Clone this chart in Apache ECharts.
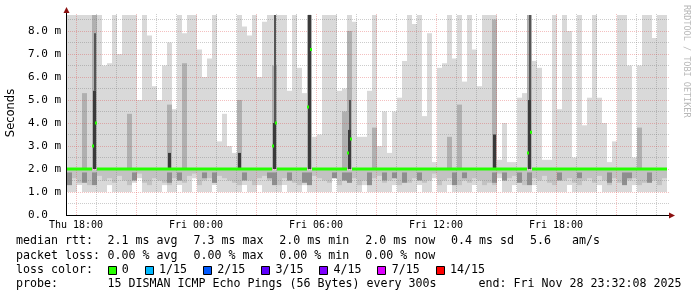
<!DOCTYPE html>
<html><head><meta charset="utf-8">
<script src="https://cdn.jsdelivr.net/npm/echarts@6/dist/echarts.min.js"></script>
<style>html,body{margin:0;padding:0;background:#fff}#c{width:697px;height:297px}</style>
</head><body><div id="c"></div>
<script>
// time of first column (hours since Thu 00:00) and column width in hours
const START_H = 17.55;
const STEP_H = 0.25;

// top of the smoke (max ping) per column, ms
const smokeMax = [
 8.7,8.7,8.7,8.7,8.7,8.7,8.7,6.5,6.6,8.7,
 7.0,8.7,8.7,8.7,5.0,8.7,7.8,5.6,5.0,6.5,
 7.5,4.6,8.7,7.9,8.7,8.7,7.2,6.0,6.8,8.7,
 3.2,4.4,3.0,2.7,8.7,8.2,7.8,8.7,6.0,8.4,
 8.7,8.7,8.7,8.7,5.4,8.7,6.4,5.3,8.7,3.4,
 3.5,8.7,8.7,8.7,5.4,5.5,8.7,8.4,3.4,3.4,
 5.4,8.7,3.0,4.5,2.7,4.5,5.1,6.7,8.7,8.3,
 8.7,4.3,7.9,2.3,6.4,6.6,8.7,6.8,8.7,5.8,
 8.7,7.2,5.6,8.7,8.7,8.7,2.4,4.0,2.3,2.3,
 5.1,5.3,8.7,6.7,6.4,2.4,2.4,8.7,4.6,8.7,
 8.0,2.5,8.7,3.9,5.1,8.7,5.1,4.0,2.3,3.2,
 8.7,8.7,6.5,2.5,6.5,8.7,8.7,7.7,8.7,8.7
];
// bottom of the smoke (min ping) per column, ms
const smokeMin = [
 1.0,1.0,1.3,1.0,1.0,1.0,1.0,1.0,1.3,1.0,
 1.0,1.0,1.0,1.4,1.6,1.0,1.0,1.0,1.0,1.3,
 1.0,1.0,1.3,1.0,1.0,1.6,1.0,1.0,1.0,1.3,
 1.0,1.0,1.0,1.0,1.0,1.3,1.0,1.0,1.3,1.0,
 1.0,1.0,1.0,1.3,1.0,1.0,1.0,1.3,1.0,1.0,
 1.0,1.0,1.0,1.6,1.0,1.0,1.0,1.0,1.0,1.3,
 1.0,1.0,1.0,1.0,1.0,1.3,1.0,1.0,1.0,1.0,
 1.3,1.0,1.0,1.6,1.0,1.0,1.3,1.0,1.0,1.0,
 1.0,1.3,1.0,1.0,1.0,1.0,1.6,1.0,1.0,1.3,
 1.0,1.0,1.0,1.3,1.0,1.0,1.0,1.0,1.0,1.0,
 1.3,1.0,1.0,1.0,1.0,1.0,1.3,1.0,1.0,1.0,
 1.0,1.0,1.0,1.3,1.0,1.0,1.0,1.0,1.0,1.0
];
// bottom of the denser (medium gray) smoke below the median, ms
const coreLow = [
 1.3,1.6,1.4,1.5,1.3,1.4,1.7,1.5,1.6,1.4,
 1.7,1.5,1.3,1.6,1.8,1.4,1.3,1.6,1.5,1.4,
 1.3,1.6,1.5,1.4,1.7,1.8,1.3,1.5,1.6,1.4,
 1.7,1.6,1.5,1.4,1.3,1.6,1.5,1.3,1.6,1.7,
 1.5,1.4,1.3,1.6,1.5,1.4,1.3,1.6,1.5,1.7,
 1.6,1.5,1.4,1.8,1.3,1.5,1.4,1.6,1.3,1.5,
 1.3,1.6,1.7,1.4,1.5,1.6,1.3,1.5,1.4,1.6,
 1.6,1.4,1.5,1.8,1.3,1.5,1.6,1.4,1.3,1.5,
 1.4,1.6,1.5,1.3,1.4,1.3,1.8,1.5,1.6,1.7,
 1.5,1.3,1.4,1.6,1.5,1.7,1.4,1.3,1.6,1.5,
 1.6,1.4,1.3,1.5,1.6,1.4,1.7,1.5,1.3,1.6,
 1.4,1.3,1.5,1.6,1.3,1.4,1.6,1.5,1.3,1.6
];
// top of denser smoke above the median (0 = none), ms
const coreHigh = [
 0,0,0,5.3,0,8.7,0,0,0,0,
 0,0,4.4,0,0,0,0,0,0,0,
 4.8,0,0,6.6,0,0,0,0,0,0,
 0,0,0,0,5.0,0,0,0,0,0,
 0,6.5,0,0,0,0,0,0,8.7,0,
 0,0,0,0,0,4.5,8.0,0,0,0,
 0,3.8,0,0,0,0,0,0,0,0,
 0,0,0,0,0,0,3.4,0,4.8,0,
 0,0,0,0,0,8.5,0,0,0,0,
 0,0,8.7,0,0,0,0,0,0,0,
 0,0,0,0,0,0,0,0,0,0,
 0,0,0,0,3.8,0,0,0,0,0
];
// bottom of dark stripes under the median (0 = none), ms
const lowDark = [
 1.3,0,0,1.4,0,1.3,0,0,0,0,
 0,0,0,1.5,0,0,0,0,0,0,
 1.4,0,1.5,0,0,0,0,1.6,0,1.4,
 0,0,0,0,0,1.5,0,0,0,0,
 1.6,1.3,0,0,1.5,0,0,1.4,1.3,0,
 0,0,0,1.6,0,1.5,1.4,0,0,0,
 1.3,0,0,1.5,0,1.6,0,1.4,0,0,
 1.5,0,0,0,0,0,0,1.3,0,1.6,
 0,0,0,0,0,1.4,0,1.5,0,0,
 1.4,0,1.3,0,0,0,0,0,1.5,0,
 0,0,1.6,0,0,0,0,0,1.4,0,
 0,1.3,1.6,0,0,0,1.4,0,0,0
];
// median rtt per column (null where the column holds a spike)
const median = [
 2.0,2.0,2.0,2.0,2.0,null,2.0,2.0,2.0,2.0,
 2.0,2.0,2.0,2.0,2.0,2.0,2.0,2.0,2.0,2.0,
 2.0,2.0,2.0,2.0,2.0,2.0,2.0,2.0,2.0,2.0,
 2.0,2.0,2.0,2.0,2.0,2.0,2.0,2.0,2.0,2.0,
 2.0,null,2.0,2.0,2.0,2.0,2.0,2.0,null,2.0,
 2.0,2.0,2.0,2.0,2.0,2.0,null,2.0,2.0,2.0,
 2.0,2.0,2.0,2.0,2.0,2.0,2.0,2.0,2.0,2.0,
 2.0,2.0,2.0,2.0,2.0,2.0,2.0,2.0,2.0,2.0,
 2.0,2.0,2.0,2.0,2.0,2.0,2.0,2.0,2.0,2.0,
 2.0,2.0,null,2.0,2.0,2.0,2.0,2.0,2.0,2.0,
 2.0,2.0,2.0,2.0,2.0,2.0,2.0,2.0,2.0,2.0,
 2.0,2.0,2.0,2.0,2.0,2.0,2.0,2.0,2.0,2.0
];
// spike columns: dark core and thin dark line above it
const spikeCols = [5, 20, 34, 41, 48, 56, 85, 92];
const spikeLow  = [2.0, 2.0, 2.0, 2.0, 2.0, 2.0, 2.0, 2.0];
const spikeHigh = [5.4, 2.7, 2.7, 4.0, 8.7, 3.7, 3.5, 5.0];
const spikeTop  = [7.9, 0, 0, 8.7, 8.7, 5.0, 0, 8.7];
// median readings inside spike columns
const dotCols = [5, 5, 41, 41, 48, 48, 56, 56, 92, 92];
const dotVals = [3.0, 4.0, 3.0, 4.0, 4.7, 7.2, 2.7, 3.3, 2.7, 3.6];

const xTickValues = [18, 24, 30, 36, 42];
const xTickLabels = ['Thu 18:00', 'Fri 00:00', 'Fri 06:00', 'Fri 12:00', 'Fri 18:00'];
const yTickValues = [0, 1, 2, 3, 4, 5, 6, 7, 8];
const yTickLabels = ['0.0  ', '1.0 m', '2.0 m', '3.0 m', '4.0 m', '5.0 m', '6.0 m', '7.0 m', '8.0 m'];
const majorHours = [18, 21, 24, 27, 30, 33, 36, 39, 42, 45];
const minorHours = [19, 20, 22, 23, 25, 26, 28, 29, 31, 32, 34, 35, 37, 38, 40, 41, 43, 44, 46, 47];
const majorLevels = [1, 2, 3, 4, 5, 6, 7, 8];
const minorLevels = [0.5, 1.5, 2.5, 3.5, 4.5, 5.5, 6.5, 7.5, 8.5];

// legend rows: label + items
const rttItems = ['2.1 ms avg', '7.3 ms max', '2.0 ms min', '2.0 ms now', '0.4 ms sd', '5.6   am/s'];
const lossItems = ['0.00 % avg', '0.00 % max', '0.00 % min', '0.00 % now'];
const lossLabels = ['0', '1/15', '2/15', '3/15', '4/15', '7/15', '14/15'];
const lossColors = ['#26ff00', '#00b8ff', '#0059ff', '#5e00ff', '#7e00ff', '#dd00ff', '#ff0000'];
const probeText = '15 DISMAN ICMP Echo Pings (56 Bytes) every 300s';
const endText = 'end: Fri Nov 28 23:32:08 2025';

const MONO = '"DejaVu Sans Mono", monospace';
const FONT_LEG = '11.63px ' + MONO;
const CH = 7.0;        // legend character advance, px
const GAP = 15.9;      // gap between legend items, px
const colT = k => START_H + STEP_H * k;

function rowsFrom(lowArr, highArr) {
  const rows = [];
  for (let k = 0; k < highArr.length; k++) {
    const lo = lowArr[k], hi = highArr[k];
    if (hi && lo && hi > lo) rows.push([colT(k), lo, hi]);
  }
  return rows;
}
function layer(rows, color, z, thinW) {
  return {
    type: 'custom', z: z, silent: true, animation: false, clip: true,
    data: rows, encode: { x: 0, y: [1, 2] },
    renderItem: function (params, api) {
      const t = api.value(0), lo = api.value(1), hi = api.value(2);
      const a = api.coord([t, hi]);
      const b = api.coord([t + STEP_H, lo]);
      let x0 = Math.round(a[0]), x1 = Math.round(b[0]);
      if (thinW) { const c = Math.round((a[0] + b[0]) / 2 - thinW / 2); x0 = c; x1 = c + thinW; }
      return { type: 'rect', shape: { x: x0, y: a[1], width: x1 - x0, height: b[1] - a[1] }, style: { fill: color } };
    }
  };
}

const coreTopArr = coreLow.map(() => 1.95);
const coreUpperLow = coreHigh.map(v => (v ? 2.0 : 0));
const darkTopArr = lowDark.map(v => (v ? 1.85 : 0));
const spikeLowArr = new Array(smokeMax.length).fill(0);
const spikeHighArr = new Array(smokeMax.length).fill(0);
const spikeThinLow = new Array(smokeMax.length).fill(0);
const spikeThinHigh = new Array(smokeMax.length).fill(0);
spikeCols.forEach((c, i) => {
  spikeLowArr[c] = spikeLow[i]; spikeHighArr[c] = spikeHigh[i];
  if (spikeTop[i]) { spikeThinLow[c] = spikeHigh[i]; spikeThinHigh[c] = spikeTop[i]; }
});

const medianRows = [];
median.forEach((v, k) => { if (v !== null) medianRows.push([colT(k), v]); });
const dotRows = [];
dotCols.forEach((c, i) => {
  const slot = (i > 0 && dotCols[i - 1] === c) ? 1 : 0;
  dotRows.push([colT(c), dotVals[i], slot]);
});

const MINOR = { color: 'rgba(120,120,120,0.38)', width: 1, type: [1, 1] };
const MAJOR = { color: 'rgba(220,60,60,0.32)', width: 1, type: [1, 1] };
const gridMarks = [];
minorHours.forEach(h => gridMarks.push({ xAxis: h, lineStyle: MINOR }));
minorLevels.forEach(v => gridMarks.push({ yAxis: v, lineStyle: MINOR }));
majorHours.forEach(h => gridMarks.push({ xAxis: h, lineStyle: MAJOR }));
majorLevels.forEach(v => gridMarks.push({ yAxis: v, lineStyle: MAJOR }));

const graphics = [];
// axes with arrows
graphics.push({ type: 'line', shape: { x1: 66, y1: 215.5, x2: 670, y2: 215.5 }, style: { stroke: '#000', lineWidth: 1 }, z: 100 });
graphics.push({ type: 'line', shape: { x1: 66.5, y1: 216, x2: 66.5, y2: 12 }, style: { stroke: '#000', lineWidth: 1 }, z: 100 });
graphics.push({ type: 'polygon', shape: { points: [[669, 212.5], [675, 215.5], [669, 218.5]] }, style: { fill: '#8b1010' }, z: 101 });
graphics.push({ type: 'polygon', shape: { points: [[63.5, 13], [66.5, 7], [69.5, 13]] }, style: { fill: '#8b1010' }, z: 101 });
// y axis title
graphics.push({ type: 'text', x: 11, y: 113, rotation: Math.PI / 2, style: { text: 'Seconds', font: '11.5px "DejaVu Sans", sans-serif', fill: '#000', align: 'center', verticalAlign: 'middle' } });
// watermark
graphics.push({ type: 'text', x: 686, y: 5, rotation: -Math.PI / 2, style: { text: 'RRDTOOL / TOBI OETIKER', font: '8.5px ' + MONO, fill: '#b8b8b8', align: 'left', verticalAlign: 'middle' } });

function legText(s, x, y) {
  graphics.push({ type: 'text', x: x, y: y, style: { text: s, font: FONT_LEG, fill: '#000', align: 'left', verticalAlign: 'middle' } });
}
const rowY = [241.2, 255.6, 269.9, 284.3];
const ITEM_X0 = 107.5;
legText('median rtt:', 16, rowY[0]);
let xx = ITEM_X0;
rttItems.forEach(s => { legText(s, xx, rowY[0]); xx += s.length * CH + GAP; });
legText('packet loss:', 16, rowY[1]);
xx = ITEM_X0;
lossItems.forEach(s => { legText(s, xx, rowY[1]); xx += s.length * CH + GAP; });
legText('loss color:', 16, rowY[2]);
xx = ITEM_X0;
lossLabels.forEach((lab, i) => {
  graphics.push({ type: 'rect', shape: { x: Math.round(xx) + 0.5, y: 266.5, width: 8, height: 8 }, style: { fill: lossColors[i], stroke: '#000', lineWidth: 1 } });
  legText(lab, xx + 14.3, rowY[2]);
  xx += 14.3 + lab.length * CH + GAP;
});
legText('probe:', 16, rowY[3]);
legText(probeText, ITEM_X0, rowY[3]);
legText(endText, 478.5, rowY[3]);

const chart = echarts.init(document.getElementById('c'), null, { renderer: 'canvas' });
chart.setOption({
  animation: false,
  backgroundColor: '#fff',
  grid: { left: 66, right: 28, top: 14, bottom: 82, containLabel: false, outerBoundsMode: 'none' },
  xAxis: {
    type: 'value', min: 17.5, max: 47.65,
    axisLine: { show: false }, axisTick: { show: false }, splitLine: { show: false },
    axisLabel: {
      customValues: xTickValues,
      formatter: v => { const i = xTickValues.indexOf(v); return i >= 0 ? xTickLabels[i] : ''; },
      fontFamily: 'DejaVu Sans Mono', fontSize: 10, color: '#000', margin: 5
    }
  },
  yAxis: {
    type: 'value', min: 0, max: 8.74,
    axisLine: { show: false }, axisTick: { show: false }, splitLine: { show: false },
    axisLabel: {
      customValues: yTickValues,
      formatter: v => { const i = yTickValues.indexOf(v); return i >= 0 ? yTickLabels[i] : ''; },
      fontFamily: 'DejaVu Sans Mono', fontSize: 11, color: '#000', margin: 5
    }
  },
  series: [
    layer(rowsFrom(smokeMin, smokeMax), '#d9d9d9', 2),
    layer(rowsFrom(coreLow, coreTopArr), '#c2c2c2', 3),
    layer(rowsFrom(coreUpperLow, coreHigh), '#b0b0b0', 3),
    layer(rowsFrom(lowDark, darkTopArr), '#8e8e8e', 4),
    layer(rowsFrom(spikeThinLow, spikeThinHigh), '#555555', 5, 2),
    layer(rowsFrom(spikeLowArr, spikeHighArr), '#3a3a3a', 5, 3),
    {
      type: 'line', data: [], z: 6, silent: true, animation: false,
      markLine: { silent: true, symbol: ['none', 'none'], label: { show: false }, animation: false, data: gridMarks }
    },
    {
      type: 'custom', z: 8, silent: true, animation: false, clip: true,
      data: medianRows, encode: { x: 0, y: 1 },
      renderItem: function (params, api) {
        const t = api.value(0), v = api.value(1);
        const a = api.coord([t, v]);
        const b = api.coord([t + STEP_H, v]);
        const x0 = Math.round(a[0]), x1 = Math.round(b[0]);
        return { type: 'rect', shape: { x: x0, y: a[1] - 1.5, width: x1 - x0, height: 3 }, style: { fill: '#26ff00' } };
      }
    },
    {
      type: 'custom', z: 8, silent: true, animation: false, clip: true,
      data: dotRows, encode: { x: 0, y: 1 },
      renderItem: function (params, api) {
        const t = api.value(0), v = api.value(1), slot = api.value(2);
        const a = api.coord([t, v]);
        const x0 = Math.round(a[0]) + slot * 3;
        return { type: 'rect', shape: { x: x0, y: a[1] - 1.5, width: 2, height: 3 }, style: { fill: '#26ff00' } };
      }
    }
  ],
  graphic: graphics
});
</script>
</body></html>
